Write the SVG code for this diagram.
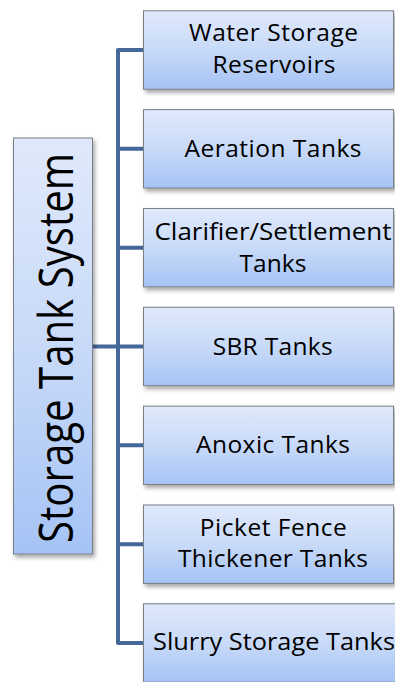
<svg xmlns="http://www.w3.org/2000/svg" width="395" height="682" viewBox="0 0 395 682">
<defs>
<linearGradient id="g" x1="0" y1="0" x2="0" y2="1">
<stop offset="0" stop-color="#e0e9fb"/>
<stop offset="0.5" stop-color="#c8daf8"/>
<stop offset="1" stop-color="#a5c3f5"/>
</linearGradient>
<filter id="sh" x="-10%" y="-10%" width="130%" height="130%">
<feDropShadow dx="2" dy="3" stdDeviation="2" flood-color="#000" flood-opacity="0.35"/>
</filter>
</defs>
<style>
.box{fill:url(#g);stroke:#7a7f88;stroke-width:1;filter:url(#sh)}
.t{font-family:"Open Sans","Liberation Sans",sans-serif;font-size:24.5px;fill:#000;text-anchor:middle}
.c{fill:none;stroke:#44689a;stroke-width:4;stroke-linejoin:round}
</style>
<g id="connectors">
<path class="c" d="M92,346.5 H118 M143,50 H118 V643 H143 M118,148.8 H143 M118,247.7 H143 M118,346.5 H143 M118,445.3 H143 M118,544.2 H143"/>
</g>
<g id="root">
<rect class="box" x="13.5" y="138" width="79" height="416"/>
<text class="t" transform="translate(73,348) rotate(-90)" style="font-size:47px" textLength="390" lengthAdjust="spacingAndGlyphs">Storage Tank System</text>
</g>
<g id="n1">
<rect class="box" x="143.5" y="10.8" width="250" height="78.4"/>
<text class="t" x="273.5" y="41" textLength="169" lengthAdjust="spacing">Water Storage</text>
<text class="t" x="274" y="73" textLength="123" lengthAdjust="spacing">Reservoirs</text>
</g>
<g id="n2">
<rect class="box" x="143.5" y="109.6" width="250" height="78.4"/>
<text class="t" x="273" y="156.7" textLength="177" lengthAdjust="spacing">Aeration Tanks</text>
</g>
<g id="n3">
<rect class="box" x="143.5" y="208.5" width="250" height="78.4"/>
<text class="t" x="273" y="240" textLength="237" lengthAdjust="spacingAndGlyphs">Clarifier/Settlement</text>
<text class="t" x="273" y="272" textLength="67" lengthAdjust="spacing">Tanks</text>
</g>
<g id="n4">
<rect class="box" x="143.5" y="307.3" width="250" height="78.4"/>
<text class="t" x="272.7" y="355" textLength="120" lengthAdjust="spacing">SBR Tanks</text>
</g>
<g id="n5">
<rect class="box" x="143.5" y="406.1" width="250" height="78.4"/>
<text class="t" x="273" y="453.3" textLength="154" lengthAdjust="spacing">Anoxic Tanks</text>
</g>
<g id="n6">
<rect class="box" x="143.5" y="505" width="250" height="78.4"/>
<text class="t" x="273.3" y="536" textLength="147" lengthAdjust="spacing">Picket Fence</text>
<text class="t" x="273" y="567.3" textLength="190" lengthAdjust="spacing">Thickener Tanks</text>
</g>
<g id="n7">
<rect class="box" x="143.5" y="603.8" width="254" height="78.4"/>
<text class="t" x="274" y="650" textLength="242" lengthAdjust="spacingAndGlyphs">Slurry Storage Tanks</text>
</g>
</svg>
